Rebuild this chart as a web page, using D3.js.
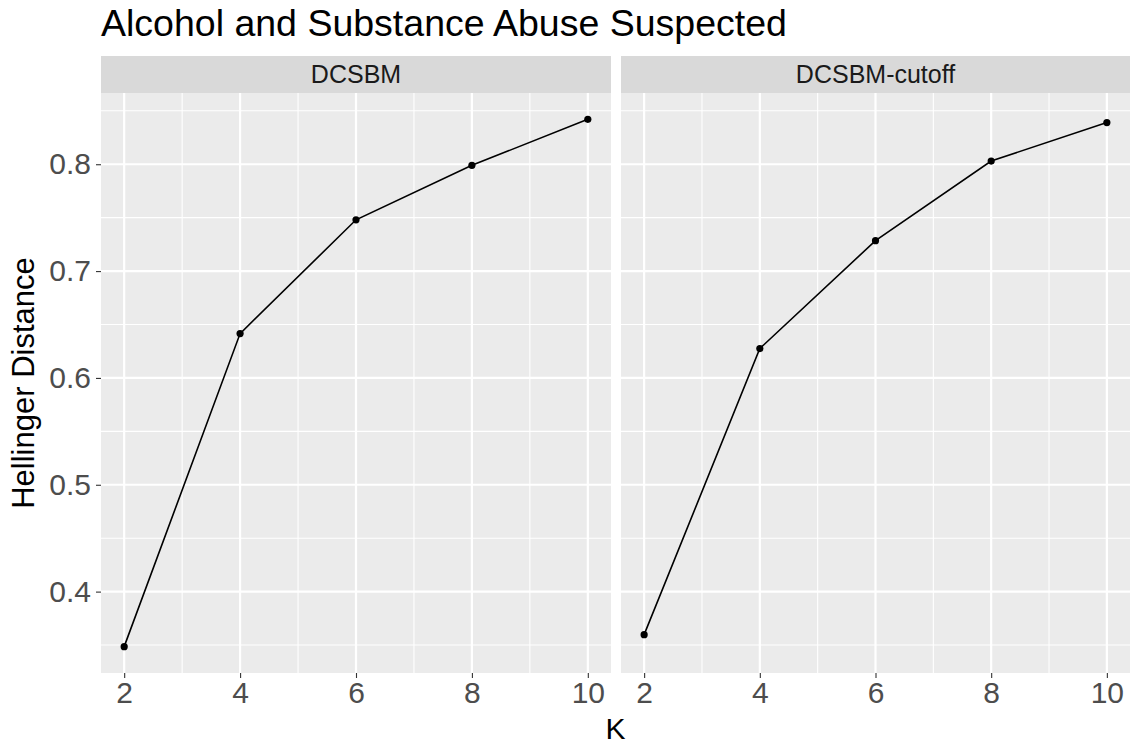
<!DOCTYPE html>
<html>
<head>
<meta charset="utf-8">
<script src="https://cdn.jsdelivr.net/npm/d3@7"></script>
<style>
  html, body { margin: 0; padding: 0; background: #fff; }
  svg { display: block; font-family: "Liberation Sans", Arial, Helvetica, sans-serif; }
</style>
</head>
<body>
<svg id="chart" width="1132" height="744"></svg>
<script>
const kValues = [2, 4, 6, 8, 10];
const panels = ["DCSBM", "DCSBM-cutoff"];
const dcsbm = [0.3485, 0.6415, 0.748, 0.799, 0.842];
const dcsbmCutoff = [0.3597, 0.6275, 0.7285, 0.803, 0.839];
const xTicks = [2, 4, 6, 8, 10];
const xMinor = [3, 5, 7, 9];
const yTicks = [0.4, 0.5, 0.6, 0.7, 0.8];
const yMinor = [0.35, 0.45, 0.55, 0.65, 0.75, 0.85];
const titleText = "Alcohol and Substance Abuse Suspected";
const xTitle = "K";
const yTitle = "Hellinger Distance";

const seriesByPanel = [dcsbm, dcsbmCutoff];

const svg = d3.select("#chart");
const W = 1132, H = 744;
svg.append("rect").attr("width", W).attr("height", H).attr("fill", "#fff");

const pTop = 93, pBottom = 673, stripTop = 56;
const panelX = [[101, 611], [621, 1130]];

const allVals = dcsbm.concat(dcsbmCutoff);
const yMin = d3.min(allVals), yMax = d3.max(allVals);
const yPad = (yMax - yMin) * 0.05;
const y = d3.scaleLinear().domain([yMin - yPad, yMax + yPad]).range([pBottom, pTop]);

const xExt = d3.extent(kValues);
const xPad = (xExt[1] - xExt[0]) * 0.05;

panels.forEach((name, i) => {
  const [x0, x1] = panelX[i];
  const x = d3.scaleLinear().domain([xExt[0] - xPad, xExt[1] + xPad]).range([x0, x1]);
  const g = svg.append("g");

  g.append("rect").attr("x", x0).attr("y", pTop).attr("width", x1 - x0).attr("height", pBottom - pTop).attr("fill", "#EBEBEB");

  g.selectAll(".ymin").data(yMinor.filter(v => y(v) >= pTop && y(v) <= pBottom)).enter().append("line")
    .attr("x1", x0).attr("x2", x1).attr("y1", d => y(d)).attr("y2", d => y(d))
    .attr("stroke", "#fff").attr("stroke-width", 1.1);
  g.selectAll(".xmin").data(xMinor).enter().append("line")
    .attr("y1", pTop).attr("y2", pBottom).attr("x1", d => x(d)).attr("x2", d => x(d))
    .attr("stroke", "#fff").attr("stroke-width", 1.1);
  g.selectAll(".ymaj").data(yTicks).enter().append("line")
    .attr("x1", x0).attr("x2", x1).attr("y1", d => y(d)).attr("y2", d => y(d))
    .attr("stroke", "#fff").attr("stroke-width", 2.2);
  g.selectAll(".xmaj").data(xTicks).enter().append("line")
    .attr("y1", pTop).attr("y2", pBottom).attr("x1", d => x(d)).attr("x2", d => x(d))
    .attr("stroke", "#fff").attr("stroke-width", 2.2);

  g.append("rect").attr("x", x0).attr("y", stripTop).attr("width", x1 - x0).attr("height", pTop - stripTop).attr("fill", "#D9D9D9");
  g.append("text").attr("x", (x0 + x1) / 2).attr("y", 83).attr("text-anchor", "middle")
    .attr("font-size", 25).attr("fill", "#1A1A1A").text(name);

  const vals = seriesByPanel[i];
  const pts = kValues.map((k, j) => [k, vals[j]]);
  g.append("path").datum(pts)
    .attr("d", d3.line().x(d => x(d[0])).y(d => y(d[1])))
    .attr("fill", "none").attr("stroke", "#000").attr("stroke-width", 1.6);
  g.selectAll(".pt").data(pts).enter().append("circle")
    .attr("cx", d => x(d[0])).attr("cy", d => y(d[1])).attr("r", 3.6).attr("fill", "#000");

  const xAxis = d3.axisBottom(x).tickValues(xTicks).tickSize(5).tickPadding(4).tickFormat(d3.format("d"));
  const ax = g.append("g").attr("transform", `translate(0,${pBottom})`).call(xAxis);
  ax.select(".domain").remove();
  ax.attr("font-family", null);
  ax.selectAll("line").attr("stroke", "#333").attr("stroke-width", 1.1);
  ax.selectAll("text").attr("font-size", 30).attr("fill", "#4D4D4D");

  if (i === 0) {
    const yAxis = d3.axisLeft(y).tickValues(yTicks).tickSize(5).tickPadding(5).tickFormat(d3.format(".1f"));
    const ay = g.append("g").attr("transform", `translate(${x0},0)`).call(yAxis);
    ay.select(".domain").remove();
    ay.attr("font-family", null);
    ay.selectAll("line").attr("stroke", "#333").attr("stroke-width", 1.1);
    ay.selectAll("text").attr("font-size", 30).attr("fill", "#4D4D4D");
  }
});

svg.append("text").attr("x", 101).attr("y", 36).attr("font-size", 37.5).attr("fill", "#000").text(titleText);
svg.append("text").attr("x", (panelX[0][0] + panelX[1][1]) / 2).attr("y", 739).attr("text-anchor", "middle")
  .attr("font-size", 30).attr("fill", "#000").text(xTitle);
svg.append("text").attr("transform", `translate(34,${(pTop + pBottom) / 2}) rotate(-90)`).attr("text-anchor", "middle")
  .attr("font-size", 31).attr("fill", "#000").text(yTitle);
</script>
</body>
</html>
